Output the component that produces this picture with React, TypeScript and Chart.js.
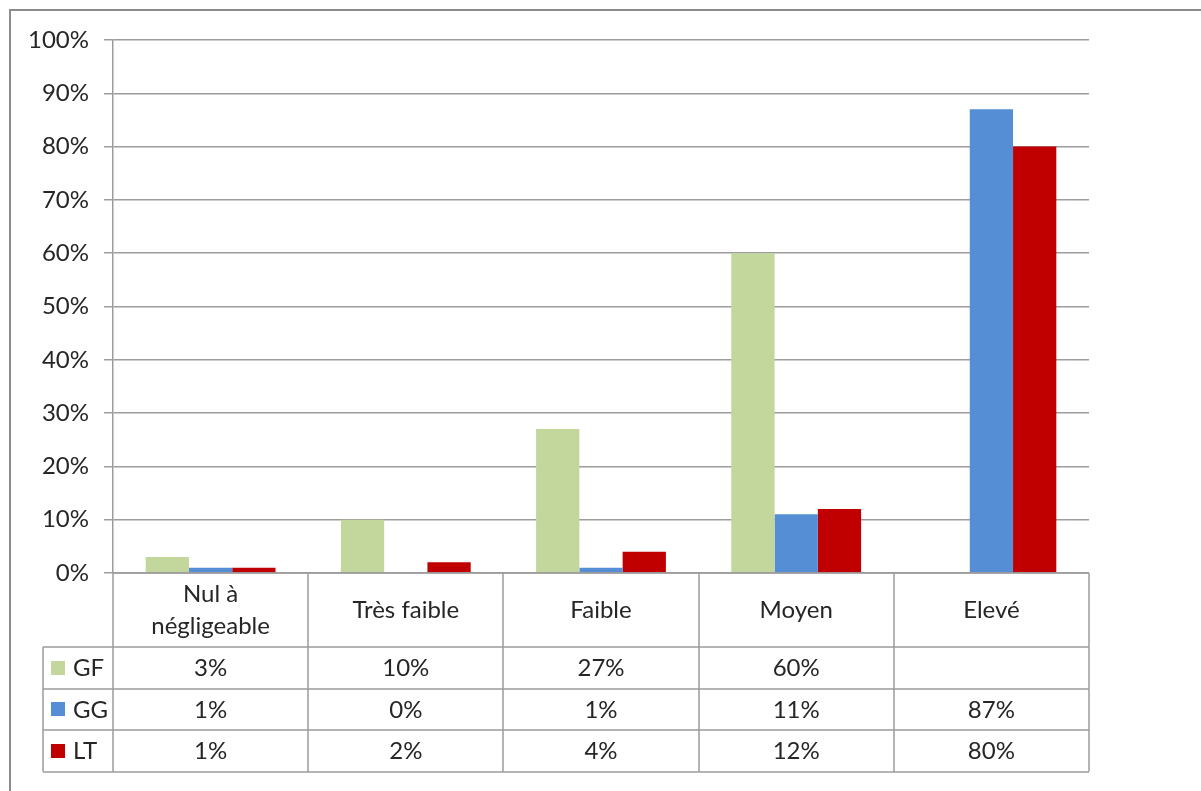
import { useEffect, useRef } from 'react';
import { Chart, registerables } from 'chart.js';

Chart.register(...registerables);

const categories: (string | string[])[] = [['Nul à', 'négligeable'], 'Très faible', 'Faible', 'Moyen', 'Elevé'];
const seriesNames = ['GF', 'GG', 'LT'];
const gfValues: (number | null)[] = [3, 10, 27, 60, null];
const ggValues: (number | null)[] = [1, 0, 1, 11, 87];
const ltValues: (number | null)[] = [1, 2, 4, 12, 80];
const seriesColors = ['#C3D69B', '#558ED5', '#C00000'];

const FONT = 'Lato, "Noto Sans", sans-serif';
const TEXT = '#262626';
const LINE = '#9C9C9C';

const framePlugin = {
  id: 'frame',
  beforeDraw(chart: any) {
    const ctx = chart.ctx;
    ctx.save();
    ctx.strokeStyle = '#8C8C8C';
    ctx.lineWidth = 2;
    ctx.beginPath();
    ctx.moveTo(10, chart.height);
    ctx.lineTo(10, 10);
    ctx.lineTo(chart.width, 10);
    ctx.stroke();
    ctx.restore();
  },
};

const tablePlugin = {
  id: 'dataTable',
  afterDraw(chart: any) {
    const { ctx, chartArea } = chart;
    const xs = chart.scales.x;
    const n = categories.length;
    const catW = (chartArea.right - chartArea.left) / n;
    const top = chartArea.bottom;
    const headerBottom = top + 74;
    const rowH = 41.5;
    const tableBottom = headerBottom + rowH * 3;
    const legendLeft = 43;
    const px = (v: number) => Math.round(v);

    ctx.save();
    ctx.strokeStyle = LINE;
    ctx.lineWidth = 1.5;
    ctx.beginPath();
    for (let i = 0; i <= n; i++) {
      const x = px(chartArea.left + i * catW);
      ctx.moveTo(x, top);
      ctx.lineTo(x, tableBottom);
    }
    ctx.moveTo(px(legendLeft), headerBottom);
    ctx.lineTo(px(legendLeft), tableBottom);
    ctx.moveTo(chartArea.left, px(top));
    ctx.lineTo(chartArea.right, px(top));
    for (let r = 0; r <= 3; r++) {
      const y = px(headerBottom + r * rowH);
      ctx.moveTo(legendLeft, y);
      ctx.lineTo(chartArea.right, y);
    }
    ctx.stroke();

    ctx.fillStyle = TEXT;
    ctx.font = `24px ${FONT}`;
    ctx.textAlign = 'center';
    ctx.textBaseline = 'middle';
    categories.forEach((c, i) => {
      const cx = xs.getPixelForValue(i);
      const lines = Array.isArray(c) ? c : [c];
      const lh = 32;
      const cy = (top + headerBottom) / 2;
      lines.forEach((l, k) => {
        ctx.fillText(l, cx, cy + (k - (lines.length - 1) / 2) * lh);
      });
    });

    const rows = [gfValues, ggValues, ltValues];
    rows.forEach((vals, r) => {
      const cy = headerBottom + r * rowH + rowH / 2;
      ctx.fillStyle = seriesColors[r];
      ctx.fillRect(51, Math.round(cy - 7), 14, 14);
      ctx.fillStyle = TEXT;
      ctx.textAlign = 'left';
      ctx.fillText(seriesNames[r], 73, cy + 1);
      ctx.textAlign = 'center';
      vals.forEach((v, i) => {
        if (v === null) return;
        ctx.fillText(`${v}%`, xs.getPixelForValue(i), cy + 1);
      });
    });
    ctx.restore();
  },
};

export default function App() {
  const ref = useRef<HTMLCanvasElement>(null);

  useEffect(() => {
    if (!ref.current) return;
    const chart = new Chart(ref.current, {
      type: 'bar',
      data: {
        labels: categories as any,
        datasets: [
          { label: seriesNames[0], data: gfValues, backgroundColor: seriesColors[0] },
          { label: seriesNames[1], data: ggValues, backgroundColor: seriesColors[1] },
          { label: seriesNames[2], data: ltValues, backgroundColor: seriesColors[2] },
        ],
      },
      options: {
        animation: false,
        responsive: true,
        maintainAspectRatio: false,
        layout: { padding: { left: 0, top: 40, right: 112, bottom: 218 } },
        datasets: { bar: { categoryPercentage: 0.665, barPercentage: 1 } },
        plugins: { legend: { display: false }, tooltip: { enabled: false } },
        scales: {
          x: { display: false },
          y: {
            min: 0,
            max: 100,
            ticks: {
              stepSize: 10,
              padding: 15,
              color: TEXT,
              font: { family: FONT, size: 24 },
              callback: (v: any) => `${v}%`,
            },
            grid: { color: LINE, lineWidth: 1.5, tickLength: 9, tickColor: LINE },
            border: { display: true, color: LINE, width: 1.5 },
            afterFit: (scale: any) => {
              scale.width = 113;
            },
          },
        },
      },
      plugins: [framePlugin, tablePlugin],
    });
    return () => chart.destroy();
  }, []);

  return (
    <div style={{ position: 'absolute', left: 0, top: 0, width: 1201, height: 791, background: '#fff' }}>
      <canvas ref={ref} />
    </div>
  );
}
